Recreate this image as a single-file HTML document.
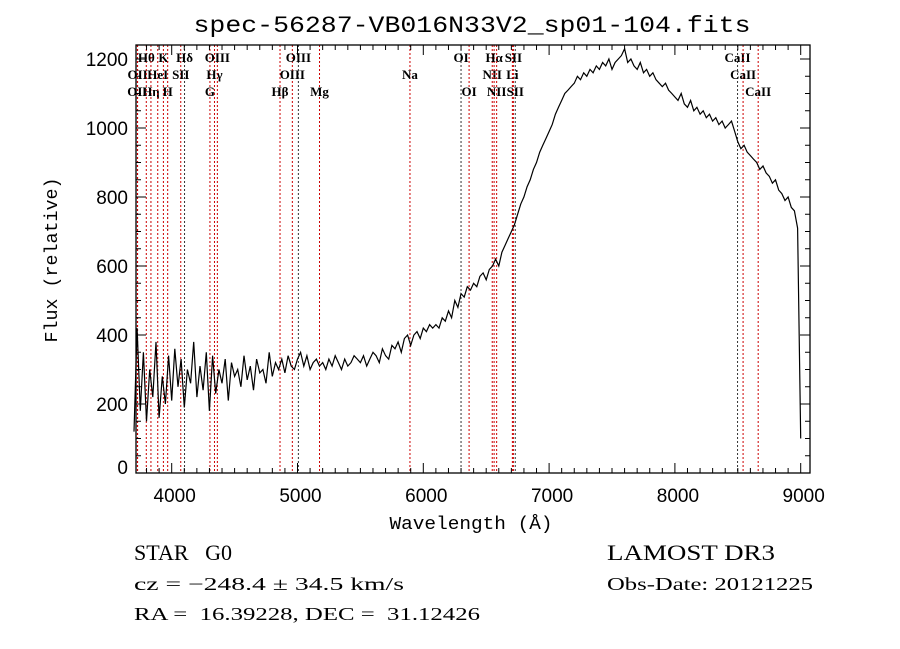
<!DOCTYPE html>
<html><head><meta charset="utf-8"><style>
html,body{margin:0;padding:0;background:#fff;}
svg{display:block;}
text{white-space:pre;}
</style></head><body>
<svg id="chart" width="900" height="649" viewBox="0 0 900 649" xmlns="http://www.w3.org/2000/svg" xml:space="preserve">
<rect x="0" y="0" width="900" height="649" fill="#fff"/>
<text x="472" y="32" text-anchor="middle" font-family="Liberation Mono, monospace" font-size="23" textLength="557" lengthAdjust="spacingAndGlyphs">spec-56287-VB016N33V2_sp01-104.fits</text>
<g id="lines"></g>
<g id="spec"></g>
<g id="axes"></g>
<text x="471" y="529" text-anchor="middle" font-family="Liberation Mono, monospace" font-size="18" textLength="163" lengthAdjust="spacingAndGlyphs">Wavelength (Å)</text>
<text transform="translate(57,260) rotate(-90)" text-anchor="middle" font-family="Liberation Mono, monospace" font-size="18" textLength="165" lengthAdjust="spacingAndGlyphs">Flux (relative)</text>
<g font-family="Liberation Serif, serif">
<text x="134" y="560" font-size="22" textLength="98" lengthAdjust="spacingAndGlyphs">STAR   G0</text>
<text x="134" y="590" font-size="18" textLength="270" lengthAdjust="spacingAndGlyphs">cz = −248.4 ± 34.5 km/s</text>
<text x="134" y="620" font-size="18" textLength="346" lengthAdjust="spacingAndGlyphs">RA =  16.39228, DEC =  31.12426</text>
<text x="607" y="560" font-size="22" textLength="168" lengthAdjust="spacingAndGlyphs">LAMOST DR3</text>
<text x="607" y="590" font-size="18" textLength="206" lengthAdjust="spacingAndGlyphs">Obs-Date: 20121225</text>
</g>
</svg>
<script>
const waveStart = 3700;
const waveStep = 25;
const fluxValues = [
120,420,180,350,150,300,220,380,160,280,200,340,
210,360,250,330,190,300,260,380,220,310,240,350,
180,340,230,300,260,330,210,320,280,300,250,340,
270,310,240,330,290,300,260,350,280,320,300,330,
290,340,310,300,330,350,310,340,300,320,330,310,
320,300,330,310,340,320,300,330,310,320,340,330,
320,340,310,330,350,340,320,360,340,330,370,360,
380,350,390,400,370,400,410,390,420,410,430,420,
430,420,450,440,470,450,500,480,520,510,540,530,
550,540,570,580,560,590,600,620,600,640,660,680,
700,720,750,780,800,830,850,880,900,930,950,970,
990,1010,1040,1060,1080,1100,1110,1120,1130,1150,1140,1160,
1150,1170,1160,1180,1170,1190,1180,1200,1170,1190,1200,1210,
1230,1190,1200,1180,1170,1190,1160,1170,1150,1160,1140,1130,
1120,1130,1110,1100,1090,1080,1100,1070,1060,1080,1050,1060,
1040,1050,1030,1040,1020,1030,1010,1020,1000,1010,1020,990,
960,940,950,930,920,910,900,880,890,870,860,840,
850,820,810,790,800,770,760,710,
100];
const lineWaves = [3727,3729,3798,3835,3889,3934,3968,4072,4102,4304,4340,4363,4861,4959,5007,5175,5894,6300,6364,6548,6563,6583,6708,6716,6731,8498,8542,8662];
const lineNames = ["OII","OII","Hθ","Hη","HeI","K","H","SII","Hδ","G","Hγ","OIII","Hβ","OIII","OIII","Mg","Na","OI","OI","NII","Hα","NII","Li","SII","SII","CaII","CaII","CaII"];
const lineRows = [2,1,0,2,1,0,2,1,0,2,1,0,2,1,0,2,1,0,2,1,0,2,1,0,2,0,1,2];
const lineColors = ["#c00","#c00","#c00","#c00","#c00","#c00","#c00","#c00","#333","#c00","#c00","#c00","#c00","#c00","#333","#c00","#c00","#333","#c00","#c00","#c00","#c00","#c00","#c00","#333","#333","#c00","#c00"];
const xTicks = [4000,5000,6000,7000,8000,9000];
const yTicks = [0,200,400,600,800,1000,1200];

const L=136,R=810,T=45,B=473;
const xs = w => 171.7 + (w-4000)*0.1258;
const ys = f => B - f*0.345;
const NS="http://www.w3.org/2000/svg";
function mk(tag, attrs, parent){const e=document.createElementNS(NS,tag);for(const k in attrs)e.setAttribute(k,attrs[k]);parent.appendChild(e);return e;}

const lg=document.getElementById('lines');
lineWaves.forEach((w,i)=>{
  const x=xs(w);
  const ln=mk('line',{x1:x,x2:x,y1:T,y2:B,stroke:lineColors[i],'stroke-width':1,'stroke-dasharray':'2,2'},lg);
  
  
  const t=mk('text',{x:x,y:62+lineRows[i]*17,'text-anchor':'middle','font-family':'Liberation Serif, serif','font-size':13,'font-weight':'bold'},lg);
  t.textContent=lineNames[i];
  
  
});

const sg=document.getElementById('spec');
let d='';
fluxValues.forEach((f,i)=>{const w=waveStart+i*waveStep;d+=(i?'L':'M')+xs(w).toFixed(1)+','+ys(f).toFixed(1);});
const p=mk('path',{d:d,fill:'none',stroke:'#000','stroke-width':1.2},sg);



const ag=document.getElementById('axes');
const box=mk('rect',{x:L,y:T,width:R-L,height:B-T,fill:'none',stroke:'#000','stroke-width':1.3},ag);


for(let w=3800;w<=9000;w+=100){
  const x=xs(w);const big=(w%1000===0);const h=big?10:5;
  mk('line',{x1:x,x2:x,y1:B,y2:B-h,stroke:'#000'},ag);
  mk('line',{x1:x,x2:x,y1:T,y2:T+h,stroke:'#000'},ag);
}
for(let f=50;f<=1200;f+=50){
  const y=ys(f);const big=(f%200===0);const h=big?10:5;
  mk('line',{x1:L,x2:L+h,y1:y,y2:y,stroke:'#000'},ag);
  mk('line',{x1:R,x2:R-h,y1:y,y2:y,stroke:'#000'},ag);
}
xTicks.forEach(w=>{
  const t=mk('text',{x:xs(w)+3,y:502,'text-anchor':'middle','font-family':'Liberation Sans, sans-serif','font-size':19},ag);
  t.textContent=w;
  
  
});
yTicks.forEach(f=>{
  const t=mk('text',{x:128,y:Math.min(ys(f)+7,474),'text-anchor':'end','font-family':'Liberation Sans, sans-serif','font-size':19},ag);
  t.textContent=f;
  
  
});
</script>
</body></html>
